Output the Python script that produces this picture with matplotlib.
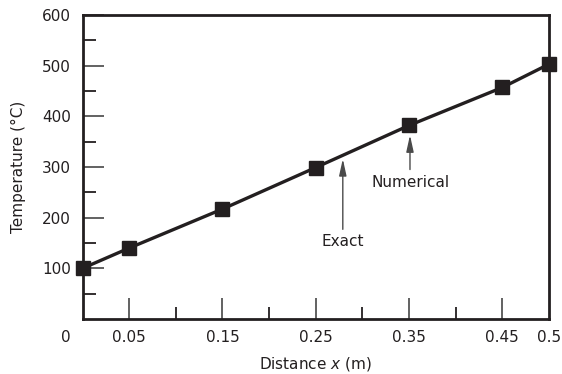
import matplotlib
matplotlib.use("Agg")
import matplotlib.pyplot as plt
from matplotlib.transforms import blended_transform_factory

plt.rcParams['font.family'] = ['DejaVu Sans']

# Numerical (finite-difference) nodal temperatures
x_num = [0.0, 0.05, 0.15, 0.25, 0.35, 0.45, 0.5]
T_num = [100, 140, 217, 299, 382, 457, 503]

# Exact solution curve
x_exact = [0.0, 0.05, 0.15, 0.25, 0.35, 0.45, 0.5]
T_exact = [100, 140, 217, 299, 382, 457, 503]

x_major = [0.05, 0.15, 0.25, 0.35, 0.45, 0.5]
x_major_labels = ["0.05", "0.15", "0.25", "0.35", "0.45", "0.5"]
x_minor = [0.1, 0.2, 0.3, 0.4]
y_major = [100, 200, 300, 400, 500, 600]
y_minor = [50, 150, 250, 350, 450, 550]

ink = '#231f20'
fs = 11

fig = plt.figure(figsize=(5.62, 3.74), dpi=100)
ax = fig.add_axes([82.5 / 562, 55 / 374, 466.5 / 562, 304 / 374])

ax.plot(x_exact, T_exact, color=ink, lw=2.4, zorder=2)
ax.plot(x_num, T_num, linestyle='none', marker='s', markersize=9.5,
        color=ink, clip_on=False, zorder=3)

ax.set_xlim(0, 0.5)
ax.set_ylim(0, 600)

for s in ax.spines.values():
    s.set_linewidth(2)
    s.set_color(ink)

ax.set_xticks(x_major)
ax.set_xticklabels(x_major_labels)
ax.set_xticks(x_minor, minor=True)
ax.set_yticks(y_major)
ax.set_yticks(y_minor, minor=True)

ax.tick_params(axis='both', which='major', direction='in', length=15,
               width=1.3, color='#555555', labelsize=fs, labelcolor=ink)
ax.tick_params(axis='both', which='minor', direction='in', length=9,
               width=1.3, color=ink)
ax.tick_params(axis='x', which='major', pad=8)
ax.tick_params(axis='y', which='major', pad=8.5)

# hide tick marks that would sit on the top/right spines
for t in ax.yaxis.get_major_ticks():
    if t.get_loc() == 600:
        t.tick1line.set_visible(False)
for t in ax.xaxis.get_major_ticks():
    if t.get_loc() == 0.5:
        t.tick1line.set_visible(False)

# origin label for the distance axis
trans = blended_transform_factory(ax.transData, ax.transAxes)
ax.text(-0.0177, -0.062, "0", transform=trans, ha='center', va='center',
        fontsize=fs, color=ink)

ax.set_xlabel("Distance $\\it{x}$ (m)", fontsize=fs, color=ink)
ax.xaxis.label.set_va('center')
ax.xaxis.set_label_coords(0.5, -0.148)
ax.set_ylabel("Temperature (°C)", fontsize=fs, color=ink)
ax.yaxis.label.set_va('center')
ax.yaxis.set_label_coords(-0.138, 0.5)

arrow = dict(arrowstyle='-|>,head_length=1.0,head_width=0.22', color='#4a4a4a',
             lw=1.0, mutation_scale=10, shrinkA=0, shrinkB=0)
ax.annotate("", xy=(0.279, 316), xytext=(0.279, 177), arrowprops=arrow)
ax.text(0.279, 153, "Exact", ha='center', va='center', fontsize=fs, color=ink)
ax.annotate("", xy=(0.351, 363), xytext=(0.351, 295), arrowprops=arrow)
ax.text(0.352, 270, "Numerical", ha='center', va='center', fontsize=fs, color=ink)

fig.savefig("out.png", dpi=100)
